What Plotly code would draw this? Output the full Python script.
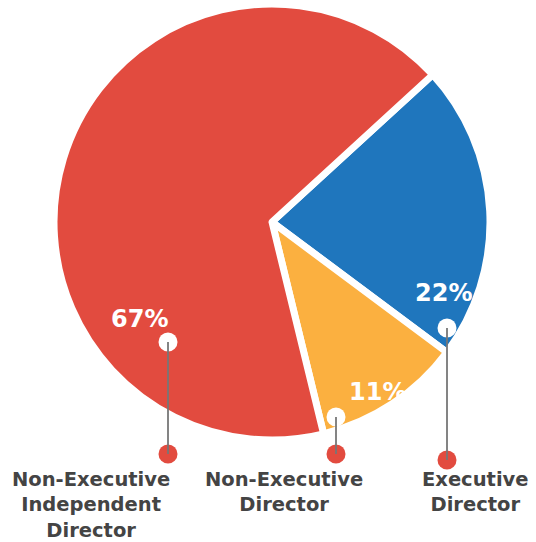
import plotly.graph_objects as go

# data
categories = ["Executive<br>Director", "Non-Executive<br>Director",
              "Non-Executive<br>Independent<br>Director"]
shares = [22, 11, 67]
colors = ["#1F76BD", "#FBB040", "#E24B3F"]

W, H = 536, 542

# label layout (pixel positions): percent text, white dot, red dot, caption
pct_pos = [(443, 293), (377, 392), (139, 319)]
dot_top = [(447, 328), (336, 417), (168, 342)]
dot_bottom = [(447, 460), (336, 454), (168, 454)]
caption_pos = [(475, 492), (284, 492), (91, 505)]

FONT = "DejaVu Sans"


def px(x, y):
    return x / W, 1 - y / H


cx, cy, r = 272, 222, 218
x0, y0 = px(cx - r, cy + r)
x1, y1 = px(cx + r, cy - r)

fig = go.Figure(go.Pie(
    labels=categories, values=shares, sort=False, direction="clockwise",
    rotation=47.5, textinfo="none", hoverinfo="label+percent",
    marker=dict(colors=colors, line=dict(color="white", width=7)),
    domain=dict(x=[x0, x1], y=[max(y0, 0), min(y1, 1)]), showlegend=False,
))

shapes = []
rr = 9.5
for (tx, ty), (bx, by) in zip(dot_top, dot_bottom):
    a0, b0 = px(tx - rr, ty + rr)
    a1, b1 = px(tx + rr, ty - rr)
    shapes.append(dict(type="circle", xref="paper", yref="paper",
                       x0=a0, y0=b0, x1=a1, y1=b1,
                       fillcolor="white", line=dict(width=0), layer="above"))
    a0, b0 = px(bx - rr, by + rr)
    a1, b1 = px(bx + rr, by - rr)
    shapes.append(dict(type="circle", xref="paper", yref="paper",
                       x0=a0, y0=b0, x1=a1, y1=b1,
                       fillcolor="#E24B3F", line=dict(width=0), layer="above"))
    la, lb = px(tx, ty)
    lc, ld = px(bx, by)
    shapes.append(dict(type="line", xref="paper", yref="paper",
                       x0=la, y0=lb, x1=lc, y1=ld,
                       line=dict(color="#777777", width=1.8), layer="above"))

annotations = []
for v, (tx, ty) in zip(shares, pct_pos):
    ax, ay = px(tx, ty)
    annotations.append(dict(text=f"{v}%", x=ax, y=ay, xref="paper", yref="paper",
                            xanchor="center", yanchor="middle", showarrow=False,
                            font=dict(family=FONT, size=24, color="white",
                                      weight="bold")))
for name, (tx, ty) in zip(categories, caption_pos):
    ax, ay = px(tx, ty)
    annotations.append(dict(text=name, x=ax, y=ay, xref="paper", yref="paper",
                            xanchor="center", yanchor="middle", showarrow=False,
                            align="center",
                            font=dict(family=FONT, size=19.5, color="#444444",
                                      weight="bold")))

fig.update_layout(
    width=W, height=H, margin=dict(l=0, r=0, t=0, b=0),
    paper_bgcolor="white", plot_bgcolor="white",
    shapes=shapes, annotations=annotations,
)
# drop the default 8px body margin so the figure fills the window exactly
fig.write_html("out.html", config={"displayModeBar": False},
               post_script="document.body.style.margin='0';")
